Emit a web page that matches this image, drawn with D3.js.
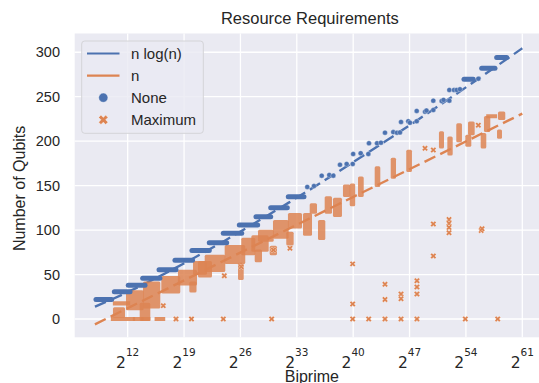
<!DOCTYPE html>
<html><head><meta charset="utf-8">
<script src="https://cdn.jsdelivr.net/npm/d3@7"></script>
<style>html,body{margin:0;padding:0;background:#fff;}svg{display:block;}</style>
</head><body>
<svg id="chart" width="539" height="383"></svg>
<script>
// ---------- DATA (x = log2 of the biprime, y = number of qubits) ----------
const xTickExps = [12, 19, 26, 33, 40, 47, 54, 61];
const yTicks = [0, 50, 100, 150, 200, 250, 300];

// fitted curves
const lineNlogN = [[7.93,13.8],[12,30.2],[16,48.2],[20,67.5],[24,87.8],[28,109.0],[32,130.9],[36,153.3],[40,176.4],[44,199.9],[48,223.9],[52,248.2],[56,273.0],[61,304.5]];
const lineN = [[7.93,-6],[61,231]];

// "None" (blue) dense runs of points: [x0, x1, qubits]
const noneRuns = [
  [8.06,10.01,22],[10.34,12.29,30.5],[12.07,14.15,38],[13.86,16.0,45.8],
  [15.89,18.0,55.5],[17.87,20.05,66],[19.98,22.13,77],[22.13,24.29,85.8],
  [23.87,26.16,96.4],[25.86,28.14,105.7],[27.93,29.76,115],[29.76,31.82,125.2],
  [31.94,33.89,137.6],[53.76,54.92,269.6],[55.96,57.61,282],[57.82,59.06,294]
];
// "None" (blue) single points: [x, qubits]
const nonePoints = [
  [34.30,148.5],[35.13,149.6],
  [36.09,161.2],[37.03,162],[37.53,161.2],
  [38.36,173.5],[39.19,174.4],[39.94,174.4],
  [40.0,185.6],[40.93,186.4],[41.88,185.6],
  [41.96,197.6],[42.96,197.6],[43.45,198.3],
  [43.95,209.6],[44.98,210.2],[45.44,209.6],[45.81,209.8],
  [45.94,221.6],[46.84,222.4],[47.05,220.8],[47.89,222.4],
  [47.89,234],[48.92,233.2],[49.10,234.4],[49.95,235],
  [49.95,245.6],[50.99,245.2],[51.22,246.4],[51.94,245.6],
  [51.94,257.6],[52.52,257.6],[52.85,257.6],[53.26,258.4],
  [55.54,270.3]
];

// "Maximum" (orange) dense runs at one level: [x0, x1, qubits]
const maxRuns = [
  [10.17,12.66,0],[12.9,13.74,0],[13.94,14.56,0],[15.6,16.4,0],
  [10.42,12.04,17.5],[56.78,57.61,228]
];
// "Maximum" (orange) dense clusters / stacks: [x0, x1, q0, q1]
const maxBlocks = [
  [10.42,11.42,3.5,11],[12.04,13.74,12,30],[13.74,14.56,0,16],[14.15,15.80,14,40],
  [16.42,18.28,31,46],[18.49,20.36,40,53],[19.9,20.3,32,40],[20.36,21.6,52,63],
  [20.98,22.22,49,63],[21.81,23.87,55,70],[24.29,26.35,64,81],[25.95,26.16,46,61],
  [26.35,27.6,74,89],[28.02,28.43,66,76],[27.6,29.26,78,92],[28.43,29.88,89,98],
  [29.88,30.29,74,80],[30.29,31.74,92.5,109],[31.94,32.36,85,96],[32.15,33.4,104,117],
  [34.02,34.64,96,117],[34.85,35.26,120.7,128],[35.88,36.29,91,109],[36.71,37.12,120.7,135.8],
  [37.74,38.36,117,134],[38.98,39.39,139.5,149],[39.82,40.0,129,150],[40.85,41.06,139.5,158],
  [42.92,43.12,150.7,169.5],[44.91,45.07,160,179],[46.84,47.05,167.6,188],[50.90,51.03,194,209],
  [51.94,52.11,186,203],[53.05,53.26,201,218],[54.17,54.42,196,205],[54.51,54.84,209,220],
  [56.08,56.28,194,207],[56.49,56.78,212.6,226],[58.11,58.23,205,211],[58.23,58.64,226,231]
];
// "Maximum" (orange) single points: [x, qubits]
const maxPoints = [
  [16.42,15],[18.0,0],[19.92,0],[23.87,0],[29.88,0],[39.94,0],[41.93,0],[43.95,0],
  [45.94,0],[47.92,0],[53.92,0],[57.95,0],
  [24.0,48.7],[26.1,58.8],[30.1,77.6],[32.15,79.5],
  [39.93,62],[39.94,16.9],[43.95,39],[43.95,22],[45.94,28],[45.94,22.8],
  [47.92,43],[47.92,36],[47.92,28],[49.95,106.9],[49.95,70.9],
  [51.9,112],[51.9,107.6],[51.9,103],[51.9,97],[55.9,99.5],[56.0,101.5],
  [48.92,192],[49.95,190],[55.54,218]
];

const legendItems = [
  {label:"n log(n)", kind:"line", color:"#4c72b0"},
  {label:"n", kind:"line", color:"#dd8452"},
  {label:"None", kind:"dot", color:"#4c72b0"},
  {label:"Maximum", kind:"x", color:"#dd8452"}
];

// ---------- CHART ----------
const BLUE = "#4c72b0", ORANGE = "#dd8452";
const svg = d3.select("#chart");
const L = 74.7, R = 545, T = 33.5, B = 337.3;
const x = d3.scaleLinear().domain([5.42, 63.82]).range([L, R]);
const y = d3.scaleLinear().domain([-20.6, 321.1]).range([B, T]);

svg.append("rect").attr("x",0).attr("y",0).attr("width",539).attr("height",383).attr("fill","#fff");
svg.append("defs").append("clipPath").attr("id","clip")
  .append("rect").attr("x",L).attr("y",T).attr("width",R-L).attr("height",B-T);
svg.append("rect").attr("x",L).attr("y",T).attr("width",R-L).attr("height",B-T).attr("fill","#eaeaf2");

// grid
const g = svg.append("g");
g.selectAll(".gx").data(xTickExps).enter().append("line")
  .attr("x1",d=>x(d)).attr("x2",d=>x(d)).attr("y1",T).attr("y2",B)
  .attr("stroke","#fff").attr("stroke-width",1.3);
g.selectAll(".gy").data(yTicks).enter().append("line")
  .attr("x1",L).attr("x2",R).attr("y1",d=>y(d)).attr("y2",d=>y(d))
  .attr("stroke","#fff").attr("stroke-width",1.3);

// tick labels
svg.selectAll(".yt").data(yTicks).enter().append("text")
  .attr("x",60).attr("y",d=>y(d)+5).attr("text-anchor","end")
  .attr("font-family","Liberation Sans, Arial, sans-serif").attr("font-size",14.5)
  .attr("fill","#262626").text(d=>d);
const xt = svg.selectAll(".xt").data(xTickExps).enter().append("text")
  .attr("x",d=>x(d)).attr("y",368.3).attr("text-anchor","middle")
  .attr("font-family","DejaVu Sans, sans-serif").attr("font-size",15.5).attr("fill","#262626");
xt.append("tspan").text("2");
xt.append("tspan").attr("dy",-12.5).attr("font-size",10.5).text(d=>d);

// axis labels & title
svg.append("text").attr("x",(L+R)/2).attr("y",24).attr("text-anchor","middle")
  .attr("font-family","Liberation Sans, Arial, sans-serif").attr("font-size",16.5)
  .attr("fill","#262626").text("Resource Requirements");
svg.append("text").attr("x",(L+R)/2+2).attr("y",382).attr("text-anchor","middle")
  .attr("font-family","Liberation Sans, Arial, sans-serif").attr("font-size",16)
  .attr("fill","#262626").text("Biprime");
svg.append("text").attr("transform",`translate(25,${(T+B)/2+3}) rotate(-90)`).attr("text-anchor","middle")
  .attr("font-family","Liberation Sans, Arial, sans-serif").attr("font-size",16)
  .attr("fill","#262626").text("Number of Qubits");

// plot contents
const p = svg.append("g").attr("clip-path","url(#clip)");
const lineGen = d3.line().x(d=>x(d[0])).y(d=>y(d[1])).curve(d3.curveMonotoneX);
p.append("path").attr("d",lineGen(lineNlogN)).attr("fill","none").attr("stroke",BLUE)
  .attr("stroke-width",2.4).attr("stroke-dasharray","12,5.5");
p.append("path").attr("d",lineGen(lineN)).attr("fill","none").attr("stroke",ORANGE)
  .attr("stroke-width",2.4).attr("stroke-dasharray","12,5.5");

// orange
const HW = 2.0;
p.selectAll(".mb").data(maxBlocks).enter().append("rect")
  .attr("x",d=>x(d[0])-HW).attr("width",d=>x(d[1])-x(d[0])+2*HW)
  .attr("y",d=>y(d[3])-HW).attr("height",d=>y(d[2])-y(d[3])+2*HW)
  .attr("rx",1.5).attr("fill",ORANGE).attr("fill-opacity",0.85);
p.selectAll(".mr").data(maxRuns).enter().append("line")
  .attr("x1",d=>x(d[0])).attr("x2",d=>x(d[1])).attr("y1",d=>y(d[2])).attr("y2",d=>y(d[2]))
  .attr("stroke",ORANGE).attr("stroke-width",4.2).attr("stroke-linecap","square").attr("stroke-opacity",0.88);
const xSym = d3.symbol().type(d3.symbolCross).size(22);
p.selectAll(".mp").data(maxPoints).enter().append("path")
  .attr("d",xSym).attr("transform",d=>`translate(${x(d[0])},${y(d[1])}) rotate(45)`)
  .attr("fill",ORANGE).attr("stroke","#fff").attr("stroke-width",0.3);

// blue
p.selectAll(".nr").data(noneRuns).enter().append("line")
  .attr("x1",d=>x(d[0])).attr("x2",d=>x(d[1])).attr("y1",d=>y(d[2])).attr("y2",d=>y(d[2]))
  .attr("stroke",BLUE).attr("stroke-width",5).attr("stroke-linecap","round");
p.selectAll(".np").data(nonePoints).enter().append("circle")
  .attr("cx",d=>x(d[0])).attr("cy",d=>y(d[1])).attr("r",2.5)
  .attr("fill",BLUE).attr("stroke","#fff").attr("stroke-width",0.3);

// legend
const lg = svg.append("g");
lg.append("rect").attr("x",81.7).attr("y",41).attr("width",121.6).attr("height",92.3).attr("rx",3)
  .attr("fill","#eaeaf2").attr("fill-opacity",0.8).attr("stroke","#d4d4d8").attr("stroke-width",1);
legendItems.forEach((it,i)=>{
  const cy = 53.5 + i*22.1;
  if (it.kind==="line") {
    lg.append("line").attr("x1",87).attr("x2",119.5).attr("y1",cy).attr("y2",cy)
      .attr("stroke",it.color).attr("stroke-width",2.2);
  } else if (it.kind==="dot") {
    lg.append("circle").attr("cx",103.3).attr("cy",cy).attr("r",4.6).attr("fill",it.color)
      .attr("stroke","#fff").attr("stroke-width",0.4);
  } else {
    lg.append("path").attr("d",d3.symbol().type(d3.symbolCross).size(55)())
      .attr("transform",`translate(103.3,${cy}) rotate(45)`).attr("fill",it.color)
      .attr("stroke","#fff").attr("stroke-width",0.4);
  }
  lg.append("text").attr("x",131).attr("y",cy+5.2)
    .attr("font-family","Liberation Sans, Arial, sans-serif").attr("font-size",15)
    .attr("fill","#262626").text(it.label);
});
</script>
</body></html>
